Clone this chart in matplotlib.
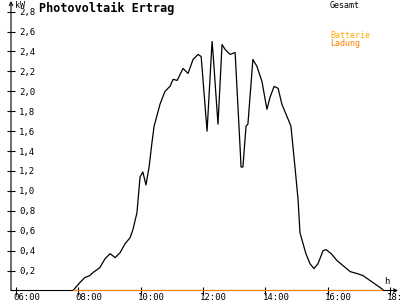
import matplotlib
matplotlib.use('Agg')
import matplotlib.pyplot as plt
from matplotlib.transforms import ScaledTranslation

# Gesamtertrag, Uhrzeit in Stunden (dezimal) und Leistung in kW
zeit = [7.83, 8.05, 8.21, 8.37, 8.47, 8.69, 8.86, 9.02, 9.18, 9.34,
        9.50, 9.66, 9.75, 9.88, 9.98, 10.07, 10.17, 10.27, 10.36, 10.43,
        10.62, 10.78, 10.94, 11.04, 11.17, 11.36, 11.52, 11.68, 11.84, 11.94,
        12.13, 12.29, 12.32, 12.48, 12.61, 12.71, 12.87, 13.03, 13.19, 13.22,
        13.28, 13.38, 13.44, 13.60, 13.73, 13.89, 14.05, 14.15, 14.28, 14.41,
        14.53, 14.69, 14.82, 14.95, 15.05, 15.11, 15.30, 15.43, 15.56, 15.69,
        15.85, 15.95, 16.11, 16.30, 16.49, 16.72, 16.94, 17.13, 17.45, 17.77]
gesamt = [0.00, 0.08, 0.13, 0.15, 0.18, 0.23, 0.32, 0.37, 0.33, 0.38,
          0.47, 0.53, 0.61, 0.78, 1.14, 1.19, 1.06, 1.24, 1.48, 1.65,
          1.87, 2.00, 2.05, 2.12, 2.11, 2.23, 2.18, 2.32, 2.37, 2.35,
          1.60, 2.50, 2.39, 1.67, 2.47, 2.42, 2.37, 2.39, 1.43, 1.24,
          1.24, 1.65, 1.67, 2.32, 2.25, 2.10, 1.82, 1.94, 2.05, 2.03,
          1.87, 1.75, 1.65, 1.24, 0.91, 0.58, 0.37, 0.27, 0.22, 0.27,
          0.40, 0.41, 0.37, 0.30, 0.25, 0.19, 0.17, 0.15, 0.08, 0.01]

# Batterieladung (liegt den ganzen Tag bei 0)
ladung_zeit = [7.83, 17.77]
ladung_kw = [0.0, 0.0]

y_ticks = [0.2, 0.4, 0.6, 0.8, 1.0, 1.2, 1.4, 1.6, 1.8, 2.0, 2.2, 2.4, 2.6, 2.8]
x_ticks = [6, 8, 10, 12, 14, 16, 18]
x_labels = ['06:00', '08:00', '10:00', '12:00', '14:00', '16:00', '18:00']

mono = 'DejaVu Sans Mono'
orange = '#ff8000'

fig = plt.figure(figsize=(4, 3), dpi=100)
ax = fig.add_axes([11 / 400, 9.5 / 300, 387 / 400, 289.5 / 300])
ax.set_xlim(5.84, 18.255)
ax.set_ylim(0, 2.907)
for s in ax.spines.values():
    s.set_visible(False)

# Achsen mit Pfeilen
arrow = dict(arrowstyle='->', lw=0.8, color='black', shrinkA=0, shrinkB=0,
             mutation_scale=6)
ax.annotate('', xy=(1, 0), xytext=(0, 0), xycoords='axes fraction', arrowprops=arrow)
ax.annotate('', xy=(0, 1), xytext=(0, 0), xycoords='axes fraction', arrowprops=arrow)

ax.plot(zeit, gesamt, color='black', lw=0.9, zorder=3)
ax.plot(ladung_zeit, ladung_kw, color=orange, lw=1.5, zorder=4, solid_capstyle='butt')

# y-Ticks: Striche über die Achse, Beschriftung rechts davon
ax.set_yticks(y_ticks)
ax.set_yticklabels([f'{v:.1f}'.replace('.', ',') for v in y_ticks])
ax.tick_params(axis='y', direction='inout', length=6, width=0.8, pad=-9,
               labelsize=6.5)
for lbl in ax.get_yticklabels():
    lbl.set_horizontalalignment('left')
    lbl.set_family(mono)

# x-Ticks: Beschriftung manuell, leicht links vom Strich
ax.set_xticks(x_ticks)
ax.set_xticklabels([])
ax.tick_params(axis='x', direction='inout', length=6, width=0.8)
off = ScaledTranslation(-3 / 100, -2 / 100, fig.dpi_scale_trans)
for h, lab in zip(x_ticks, x_labels):
    ax.text(h, 0, lab, transform=ax.transData + off, ha='left', va='top',
            fontsize=6.5, family=mono, clip_on=False)

# Texte
fig.text(39 / 400, 1 - 2 / 300, 'Photovoltaik Ertrag', ha='left', va='top',
         fontsize=8.5, fontweight='bold', family=mono)
fig.text(15 / 400, 1 - 1 / 300, 'kW', ha='left', va='top', fontsize=6, family=mono)
fig.text(387 / 400, 1 - 286 / 300, 'h', ha='center', va='bottom', fontsize=6.5, family=mono)
fig.text(330 / 400, 1 - 1 / 300, 'Gesamt', ha='left', va='top', fontsize=6, family=mono)
fig.text(330 / 400, 1 - 31 / 300, 'Batterie', ha='left', va='top', fontsize=6,
         family=mono, color='#ffaa00')
fig.text(330 / 400, 1 - 39 / 300, 'Ladung', ha='left', va='top', fontsize=6,
         family=mono, color=orange)

fig.savefig('out.png', dpi=100)
